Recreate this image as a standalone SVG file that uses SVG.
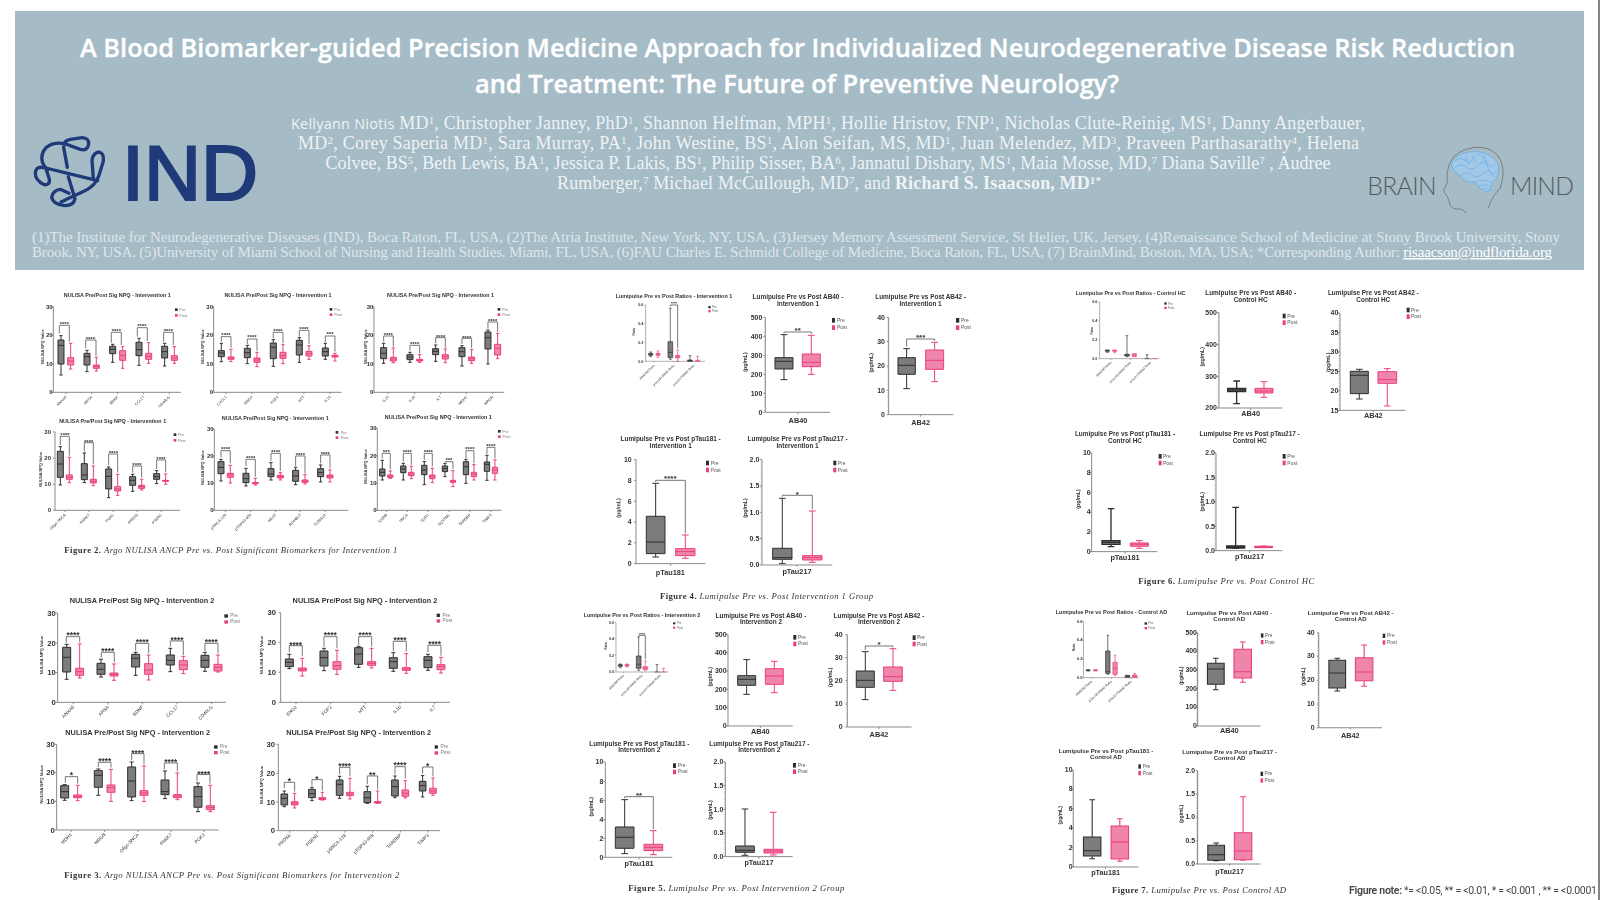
<svg xmlns="http://www.w3.org/2000/svg" width="1600" height="900" viewBox="0 0 1600 900">
<style>
text{font-family:"Liberation Sans",Arial,sans-serif;fill:#333}
.a,.t,.st,.c{text-anchor:middle}
.t,.n,.c{font-weight:700}
.n{text-anchor:end}
.st{font-weight:700}
.ax{fill:none;stroke:#8a8a8a;stroke-width:3}
.mt{fill:none;stroke:#999;stroke-width:3;stroke-dasharray:1.5 6}
.g{fill:#7b7b7b;stroke:#2f2f2f;stroke-width:3}
.p{fill:#ef85ab;stroke:#ec3d7d;stroke-width:3}
.br{fill:none;stroke:#555;stroke-width:2.4}
.lp{fill:#2f2f2f}.lq{fill:#ec3d7d}
.yl{text-anchor:middle;font-weight:700}
.x{text-anchor:end}
.cap{font-family:"Liberation Serif",serif;fill:#333}
.cap .b{font-weight:700}.cap .i{font-style:italic}
#f2 .t{font-size:16.3px}#f2 .n{font-size:18px}#f2 .yl{font-size:11.6px}#f2 .x{font-size:11.5px}#f2 .lg{font-size:11.5px;fill:#777}#f2 .st{font-size:18px}
#f3 .t{font-size:22px}#f3 .n{font-size:23px}#f3 .yl{font-size:12.8px}#f3 .x{font-size:14px}#f3 .lg{font-size:14.5px;fill:#777}#f3 .st{font-size:25px}
.lu .t{font-size:19.3px}.lu .n{font-size:21px}.lu .yl{font-size:16px}.lu .c{font-size:22px}.lu .lg{font-size:15px;fill:#555}.lu .st{font-size:24px}
.lu .rt{font-size:16.3px}.lu .rn{font-size:11px}.lu .ry{font-size:9px}.lu .rx{font-size:9.5px}.lu .rl{font-size:9.5px;fill:#666}.lu .rs{font-size:12px}
.lu .thin .ax{stroke-width:2}.lu .thin .g,.lu .thin .p{stroke-width:2}
#f7 .t{font-size:16.7px}#f7 .n{font-size:19px}#f7 .c{font-size:20px}#f7 .lg{font-size:13.5px}#f7 .yl{font-size:15px}#f7 .rt{font-size:15.2px}#f7 .rn{font-size:11px}#f7 .ry{font-size:9px}
#banner .ti{font-family:"Open Sans",sans-serif;font-size:26px;font-weight:600;fill:#fff;stroke:#fff;stroke-width:.35px;text-anchor:middle}
#banner .au{font-family:"Liberation Serif",serif;font-size:18px;fill:#eef3f5}
#banner .af{font-family:"Liberation Serif",serif;font-size:15px;fill:#dfe7eb}
#banner .s{font-size:11px;baseline-shift:5px}
</style>
<defs><filter id="b" filterUnits="userSpaceOnUse" x="0" y="0" width="1600" height="900"><feGaussianBlur stdDeviation="0.4"/></filter></defs>
<rect width="1600" height="900" fill="#fff"/>
<path d="M1599 0V900" stroke="#333" stroke-width="1.2"/>

<g id="banner">
<rect x="15" y="11" width="1569" height="259" fill="#a5bbc6"/>
<text class="ti" x="797.500" y="57" textLength="1435" lengthAdjust="spacingAndGlyphs">A Blood Biomarker-guided Precision Medicine Approach for Individualized Neurodegenerative Disease Risk Reduction</text>
<text class="ti" x="797" y="93" textLength="644" lengthAdjust="spacingAndGlyphs">and Treatment: The Future of Preventive Neurology?</text>
<text class="au" x="291" y="129" textLength="1074"><tspan font-family="Open Sans" font-size="14.5">Kellyann Niotis</tspan> MD<tspan class="s">1</tspan>, Christopher Janney, PhD<tspan class="s">1</tspan>, Shannon Helfman, MPH<tspan class="s">1</tspan>, Hollie Hristov, FNP<tspan class="s">1</tspan>, Nicholas Clute-Reinig, MS<tspan class="s">1</tspan>, Danny Angerbauer,</text>
<text class="au" x="298" y="149" textLength="1061">MD<tspan class="s">2</tspan>, Corey Saperia MD<tspan class="s">1</tspan>, Sara Murray, PA<tspan class="s">1</tspan>, John Westine, BS<tspan class="s">1</tspan>, Alon Seifan, MS, MD<tspan class="s">1</tspan>, Juan Melendez, MD<tspan class="s">3</tspan>, Praveen Parthasarathy<tspan class="s">4</tspan>, Helena</text>
<text class="au" x="325.500" y="169" textLength="1005">Colvee, BS<tspan class="s">5</tspan>, Beth Lewis, BA<tspan class="s">1</tspan>, Jessica P. Lakis, BS<tspan class="s">1</tspan>, Philip Sisser, BA<tspan class="s">6</tspan>, Jannatul Dishary, MS<tspan class="s">1</tspan>, Maia Mosse, MD,<tspan class="s">7</tspan> Diana Saville<tspan class="s">7</tspan> , Audree</text>
<text class="au" x="557" y="189" textLength="544">Rumberger,<tspan class="s">7</tspan> Michael McCullough, MD<tspan class="s">7</tspan>, and <tspan font-weight="700">Richard S. Isaacson, MD</tspan><tspan class="s" font-weight="700">1*</tspan></text>
<text class="af" x="32" y="242" textLength="1528">(1)The Institute for Neurodegenerative Diseases (IND), Boca Raton, FL, USA, (2)The Atria Institute, New York, NY, USA, (3)Jersey Memory Assessment Service, St Helier, UK, Jersey, (4)Renaissance School of Medicine at Stony Brook University, Stony</text>
<text class="af" x="32" y="257" textLength="1520">Brook, NY, USA, (5)University of Miami School of Nursing and Health Studies, Miami, FL, USA, (6)FAU Charles E. Schmidt College of Medicine, Boca Raton, FL, USA, (7) BrainMind, Boston, MA, USA; *Corresponding Author: <tspan text-decoration="underline" fill="#fff">risaacson@indflorida.org</tspan></text>
<g id="logo-ind">
<g transform="translate(25 128) scale(.3333)" fill="none" stroke="#1f3a78" stroke-width="10" stroke-linecap="round" stroke-linejoin="round">
<path d="M127 118L116 58Q114 38 136 34L172 29Q192 30 191 48Q188 70 166 64L122 48Q88 40 64 58Q46 76 52 102Q56 116 68 126"/>
<path d="M218 158L62 120Q34 112 31 134Q30 158 58 170Q78 172 72 150L62 120"/>
<path d="M205 152L201 96Q205 74 222 72Q238 76 235 100L222 142Q212 176 172 192L128 212Q118 218 108 222"/>
<path d="M130 146L150 212Q146 234 118 233Q84 228 80 208Q84 186 106 184L132 196"/>
</g>
<text x="122" y="200" font-size="78" textLength="136" lengthAdjust="spacingAndGlyphs" style="fill:#1f3a78;stroke:#1f3a78;stroke-width:2.2">IND</text>
</g>
<g id="logo-brain" transform="translate(1360 140) scale(.3333)">
<path d="M318 220Q310 204 290 207Q268 205 268 185L262 170Q250 155 252 148L262 128Q258 100 268 72Q285 30 345 22Q400 18 422 60Q438 100 420 145Q395 170 385 205" fill="none" stroke="#7a7f82" stroke-width="3"/>
<path d="M275 72Q285 42 330 35Q395 30 415 75Q420 110 397 128L390 152L380 156Q360 150 345 126Q315 132 300 106Q275 92 275 72Z" fill="#a3c8e6" stroke="#6db2ea" stroke-width="3"/>
<path d="M285 62Q300 50 315 62T345 52T375 62T405 72M285 82Q305 68 320 82T355 75T385 85T410 92M305 105Q320 92 335 105T370 100T400 110M340 45Q335 60 350 68M375 45Q368 60 385 68M320 50Q315 65 328 72M345 126Q365 115 397 128M355 138Q375 130 392 140M365 148Q378 142 388 150" fill="none" stroke="#6db2ea" stroke-width="2.5"/>
<text x="22" y="165" font-size="74" textLength="208" style="font-family:Lato,sans-serif;font-weight:300;fill:#55595c">BRAIN</text>
<text x="450" y="165" font-size="74" textLength="192" style="font-family:Lato,sans-serif;font-weight:300;fill:#55595c">MIND</text>
</g>
</g>

<g filter="url(#b)">
<g id="f2" transform="translate(20 280) scale(.3333)">
<g id="f2-1">
<text class="t" x="292" y="52">NULISA Pre/Post Sig NPQ - Intervention 1</text>
<path class="ax" d="M100 80V337H483M138 337v5M215 337v5M293 337v5M371 337v5M448 337v5M94 80h6M94 166h6M94 252h6M94 337h6"/>
<text class="n" x="98" y="86">30</text><text class="n" x="98" y="172">20</text><text class="n" x="98" y="258">10</text><text class="n" x="98" y="343">0</text>
<text class="yl" transform="translate(72 200) rotate(-90)">NULISA NPQ Value</text>
<path class="g" d="M114 180h18V252h-18ZM114 196h18M123 180V167m-5 0h10M123 252V285m-5 0h10M192 220h18V255h-18ZM192 230h18M201 220V211m-5 0h10M201 255V275m-5 0h10M269 199h18V221h-18ZM269 208h18M278 199V193m-5 0h10M278 221V247m-5 0h10M348 187h18V227h-18ZM348 209h18M357 187V175m-5 0h10M357 227V256m-5 0h10M425 199h18V234h-18ZM425 215h18M434 199V190m-5 0h10M434 234V258m-5 0h10"/>
<path class="p" d="M143 233h18V255h-18ZM143 243h18M152 233V190m-5 0h10M152 255V267m-5 0h10M220 255h18V265h-18ZM220 260h18M229 255V232m-5 0h10M229 265V273m-5 0h10M299 212h18V241h-18ZM299 226h18M308 212V200m-5 0h10M308 241V265m-5 0h10M377 220h18V238h-18ZM377 229h18M386 220V188m-5 0h10M386 238V250m-5 0h10M454 227h18V241h-18ZM454 234h18M463 227V200m-5 0h10M463 241V250m-5 0h10"/>
<path class="br" d="M118 160V136H148V185M197 205V180H228V228M274 188V157H304V195M352 170V143H382V183M431 185V157H460V195"/>
<text class="st" x="133" y="137">****</text><text class="st" x="211" y="183">****</text><text class="st" x="289" y="159">****</text><text class="st" x="366" y="145">****</text><text class="st" x="445" y="159">****</text>
<rect class="lp" x="465" y="85" width="8" height="8"/><rect class="lq" x="465" y="102" width="8" height="8"/><text class="lg" x="478" y="93">Pre</text><text class="lg" x="478" y="110">Post</text>
<g class="xg"><text class="x" transform="translate(141 352) rotate(-45)">ANXA5</text><text class="x" transform="translate(218 352) rotate(-45)">ARSA</text><text class="x" transform="translate(296 352) rotate(-45)">BDNF</text><text class="x" transform="translate(374 352) rotate(-45)">CCL17</text><text class="x" transform="translate(451 352) rotate(-45)">CD40LG</text></g>
</g>
<g id="f2-2">
<text class="t" x="774" y="52">NULISA Pre/Post Sig NPQ - Intervention 1</text>
<path class="ax" d="M581 80V337H965M618 337v5M696 337v5M774 337v5M852 337v5M930 337v5M575 80h6M575 165h6M575 251h6M575 337h6"/>
<text class="n" x="579" y="86">30</text><text class="n" x="579" y="171">20</text><text class="n" x="579" y="257">10</text><text class="n" x="579" y="343">0</text>
<text class="yl" transform="translate(553 200) rotate(-90)">NULISA NPQ Value</text>
<path class="g" d="M595 212h18V230h-18ZM595 219h18M604 212V190m-5 0h10M604 230V245m-5 0h10M673 205h18V233h-18ZM673 218h18M682 205V196m-5 0h10M682 233V251m-5 0h10M751 189h18V236h-18ZM751 202h18M760 189V179m-5 0h10M760 236V259m-5 0h10M829 181h18V225h-18ZM829 195h18M838 181V173m-5 0h10M838 225V247m-5 0h10M907 204h18V228h-18ZM907 215h18M916 204V190m-5 0h10M916 228V238m-5 0h10"/>
<path class="p" d="M624 231h18V238h-18ZM624 234h18M633 231V208m-5 0h10M633 238V245m-5 0h10M702 234h18V247h-18ZM702 240h18M711 234V217m-5 0h10M711 247V260m-5 0h10M780 217h18V235h-18ZM780 227h18M789 217V194m-5 0h10M789 235V251m-5 0h10M858 214h18V228h-18ZM858 221h18M867 214V197m-5 0h10M867 228V238m-5 0h10M936 226h18V231h-18ZM936 228h18M945 226V220m-5 0h10M945 231V243m-5 0h10"/>
<path class="br" d="M604 185V170H633V203M682 192V177H711V212M760 175V157H789V190M838 170V151H867V192M916 186V168H945V215"/>
<text class="st" x="618" y="171">****</text><text class="st" x="696" y="178">****</text><text class="st" x="774" y="159">****</text><text class="st" x="852" y="152">****</text><text class="st" x="930" y="169">***</text>
<rect class="lp" x="929" y="84" width="8" height="8"/><rect class="lq" x="929" y="100" width="8" height="8"/><text class="lg" x="943" y="92">Pre</text><text class="lg" x="943" y="108">Post</text>
<text class="x" transform="translate(621 352) rotate(-45)">CXCL1</text><text class="x" transform="translate(699 352) rotate(-45)">ENO2</text><text class="x" transform="translate(777 352) rotate(-45)">FGF2</text><text class="x" transform="translate(855 352) rotate(-45)">HTT</text><text class="x" transform="translate(933 352) rotate(-45)">IL16</text>
</g>
<g id="f2-3">
<text class="t" x="1262" y="52">NULISA Pre/Post Sig NPQ - Intervention 1</text>
<path class="ax" d="M1062 80V337H1453M1105 337v5M1184 337v5M1262 337v5M1340 337v5M1418 337v5M1056 80h6M1056 166h6M1056 252h6M1056 337h6"/>
<text class="n" x="1060" y="86">30</text><text class="n" x="1060" y="172">20</text><text class="n" x="1060" y="258">10</text><text class="n" x="1060" y="343">0</text>
<text class="yl" transform="translate(1040 200) rotate(-90)">NULISA NPQ Value</text>
<path class="g" d="M1082 203h18V236h-18ZM1082 220h18M1091 203V190m-5 0h10M1091 236V250m-5 0h10M1161 224h18V239h-18ZM1161 231h18M1170 224V217m-5 0h10M1170 239V247m-5 0h10M1238 206h18V224h-18ZM1238 214h18M1247 206V195m-5 0h10M1247 224V244m-5 0h10M1317 203h18V230h-18ZM1317 215h18M1326 203V197m-5 0h10M1326 230V258m-5 0h10M1395 156h18V207h-18ZM1395 173h18M1404 156V150m-5 0h10M1404 207V252m-5 0h10"/>
<path class="p" d="M1111 232h18V243h-18ZM1111 237h18M1120 232V204m-5 0h10M1120 243V248m-5 0h10M1190 238h18V243h-18ZM1190 241h18M1199 238V224m-5 0h10M1199 243V247m-5 0h10M1267 224h18V237h-18ZM1267 230h18M1276 224V207m-5 0h10M1276 237V248m-5 0h10M1346 231h18V242h-18ZM1346 236h18M1355 231V209m-5 0h10M1355 242V250m-5 0h10M1424 193h18V225h-18ZM1424 205h18M1433 193V160m-5 0h10M1433 225V236m-5 0h10"/>
<path class="br" d="M1091 185V168H1120V200M1170 212V196H1199V220M1247 190V173H1276V203M1326 192V175H1355V205M1404 145V126H1433V156"/>
<text class="st" x="1105" y="170">****</text><text class="st" x="1184" y="199">****</text><text class="st" x="1262" y="176">****</text><text class="st" x="1340" y="179">****</text><text class="st" x="1418" y="129">****</text>
<rect class="lp" x="1433" y="84" width="8" height="8"/><rect class="lq" x="1433" y="100" width="8" height="8"/><text class="lg" x="1447" y="92">Pre</text><text class="lg" x="1447" y="108">Post</text>
<text class="x" transform="translate(1108 352) rotate(-45)">IL15</text><text class="x" transform="translate(1187 352) rotate(-45)">IL18</text><text class="x" transform="translate(1265 352) rotate(-45)">IL7</text><text class="x" transform="translate(1343 352) rotate(-45)">MDH1</text><text class="x" transform="translate(1421 352) rotate(-45)">NRGN</text>
</g>
<g id="f2-4">
<text class="t" x="278" y="429">NULISA Pre/Post Sig NPQ - Intervention 1</text>
<path class="ax" d="M105 456V691H480M135 691v5M207 691v5M280 691v5M352 691v5M424 691v5M99 456h6M99 535h6M99 613h6M99 691h6"/>
<text class="n" x="93" y="462">30</text><text class="n" x="93" y="541">20</text><text class="n" x="93" y="619">10</text><text class="n" x="93" y="697">0</text>
<text class="yl" transform="translate(66 568) rotate(-90)">NULISA NPQ Value</text>
<path class="g" d="M112 514h18V592h-18ZM112 552h18M121 514V500m-5 0h10M121 592V615m-5 0h10M184 551h18V599h-18ZM184 585h18M193 551V519m-5 0h10M193 599V608m-5 0h10M257 567h18V627h-18ZM257 589h18M266 567V561m-5 0h10M266 627V653m-5 0h10M329 590h18V616h-18ZM329 601h18M338 590V583m-5 0h10M338 616V634m-5 0h10M401 581h18V598h-18ZM401 590h18M410 581V572m-5 0h10M410 598V611m-5 0h10"/>
<path class="p" d="M139 585h18V598h-18ZM139 592h18M148 585V532m-5 0h10M148 598V608m-5 0h10M211 598h18V609h-18ZM211 604h18M220 598V558m-5 0h10M220 609V617m-5 0h10M284 620h18V633h-18ZM284 627h18M293 620V583m-5 0h10M293 633V646m-5 0h10M356 616h18V625h-18ZM356 620h18M365 616V598m-5 0h10M365 625V630m-5 0h10M428 601h18V604h-18ZM428 602h18M437 601V582m-5 0h10M437 604V613m-5 0h10"/>
<path class="br" d="M121 495V469H148V527M193 515V488H220V553M266 556V522H293V578M338 578V558H365V593M410 567V540H437V577"/>
<text class="st" x="135" y="471">****</text><text class="st" x="206" y="491">****</text><text class="st" x="280" y="525">****</text><text class="st" x="351" y="561">****</text><text class="st" x="423" y="543">****</text>
<rect class="lp" x="461" y="460" width="8" height="8"/><rect class="lq" x="461" y="477" width="8" height="8"/><text class="lg" x="474" y="468">Pre</text><text class="lg" x="474" y="485">Post</text>
<text class="x" transform="translate(138 706) rotate(-45)">Oligo-SNCA</text><text class="x" transform="translate(210 706) rotate(-45)">PARK7</text><text class="x" transform="translate(283 706) rotate(-45)">PGK1</text><text class="x" transform="translate(355 706) rotate(-45)">PRDX6</text><text class="x" transform="translate(427 706) rotate(-45)">PSEN1</text>
</g>
<g id="f2-5">
<text class="t" x="766" y="420">NULISA Pre/Post Sig NPQ - Intervention 1</text>
<path class="ax" d="M583 447V691H985M617 691v5M692 691v5M767 691v5M841 691v5M916 691v5M577 447h6M577 528h6M577 610h6M577 691h6"/>
<text class="n" x="581" y="453">30</text><text class="n" x="581" y="534">20</text><text class="n" x="581" y="616">10</text><text class="n" x="581" y="697">0</text>
<text class="yl" transform="translate(552 563) rotate(-90)">NULISA NPQ Value</text>
<path class="g" d="M594 545h18V581h-18ZM594 562h18M603 545V538m-5 0h10M603 581V603m-5 0h10M669 580h18V608h-18ZM669 596h18M678 580V565m-5 0h10M678 608V618m-5 0h10M744 566h18V590h-18ZM744 582h18M753 566V548m-5 0h10M753 590V600m-5 0h10M818 571h18V604h-18ZM818 588h18M827 571V562m-5 0h10M827 604V614m-5 0h10M893 566h18V590h-18ZM893 578h18M902 566V555m-5 0h10M902 590V606m-5 0h10"/>
<path class="p" d="M622 580h18V592h-18ZM622 585h18M631 580V556m-5 0h10M631 592V609m-5 0h10M697 608h18V611h-18ZM697 609h18M706 608V595m-5 0h10M706 611V615m-5 0h10M772 586h18V594h-18ZM772 590h18M781 586V578m-5 0h10M781 594V600m-5 0h10M846 600h18V607h-18ZM846 604h18M855 600V584m-5 0h10M855 607V612m-5 0h10M921 585h18V594h-18ZM921 589h18M930 585V570m-5 0h10M930 594V606m-5 0h10"/>
<path class="br" d="M603 532V512H631V550M678 558V538H706V590M753 543V520H781V573M827 558V528H855V580M902 550V525H930V565"/>
<text class="st" x="617" y="514">****</text><text class="st" x="692" y="540">****</text><text class="st" x="767" y="522">****</text><text class="st" x="841" y="531">****</text><text class="st" x="916" y="527">****</text>
<rect class="lp" x="947" y="453" width="8" height="8"/><rect class="lq" x="947" y="469" width="8" height="8"/><text class="lg" x="962" y="461">Pre</text><text class="lg" x="962" y="477">Post</text>
<text class="x" transform="translate(620 706) rotate(-45)">pSNCA-129</text><text class="x" transform="translate(695 706) rotate(-45)">pTDP43-409</text><text class="x" transform="translate(770 706) rotate(-45)">REST</text><text class="x" transform="translate(844 706) rotate(-45)">ROHBL2</text><text class="x" transform="translate(919 706) rotate(-45)">S100A12</text>
</g>
<g id="f2-6">
<text class="t" x="1255" y="417">NULISA Pre/Post Sig NPQ - Intervention 1</text>
<path class="ax" d="M1072 445V691H1445M1100 691v5M1162 691v5M1225 691v5M1288 691v5M1350 691v5M1413 691v5M1066 445h6M1066 527h6M1066 610h6M1066 691h6"/>
<text class="n" x="1070" y="451">30</text><text class="n" x="1070" y="533">20</text><text class="n" x="1070" y="616">10</text><text class="n" x="1070" y="697">0</text>
<text class="yl" transform="translate(1041 560) rotate(-90)">NULISA NPQ Value</text>
<path class="g" d="M1079 567h16V588h-16ZM1079 577h16M1087 567V541m-5 0h10M1087 588V600m-5 0h10M1142 558h16V578h-16ZM1142 567h16M1150 558V550m-5 0h10M1150 578V600m-5 0h10M1205 556h16V584h-16ZM1205 570h16M1213 556V545m-5 0h10M1213 584V614m-5 0h10M1267 558h16V575h-16ZM1267 566h16M1275 558V550m-5 0h10M1275 575V590m-5 0h10M1330 545h16V584h-16ZM1330 560h16M1338 545V538m-5 0h10M1338 584V610m-5 0h10M1393 546h16V574h-16ZM1393 553h16M1401 546V526m-5 0h10M1401 574V601m-5 0h10"/>
<path class="p" d="M1103 585h16V592h-16ZM1103 589h16M1111 585V573m-5 0h10M1111 592V595m-5 0h10M1166 577h16V587h-16ZM1166 582h16M1174 577V559m-5 0h10M1174 587V596m-5 0h10M1229 585h16V596h-16ZM1229 590h16M1237 585V565m-5 0h10M1237 596V608m-5 0h10M1291 601h16V607h-16ZM1291 604h16M1299 601V572m-5 0h10M1299 607V620m-5 0h10M1354 577h16V590h-16ZM1354 583h16M1362 577V554m-5 0h10M1362 590V600m-5 0h10M1417 562h16V580h-16ZM1417 570h16M1425 562V540m-5 0h10M1425 580V600m-5 0h10"/>
<path class="br" d="M1087 535V520H1111V568M1150 545V520H1174V555M1213 540V520H1237V560M1275 545H1299V567M1338 534V512H1362V550M1401 522V502H1425V536"/>
<text class="st" x="1099" y="522">***</text><text class="st" x="1162" y="522">****</text><text class="st" x="1225" y="522">****</text><text class="st" x="1287" y="546">***</text><text class="st" x="1350" y="514">****</text><text class="st" x="1413" y="504">****</text>
<rect class="lp" x="1434" y="450" width="8" height="8"/><rect class="lq" x="1434" y="466" width="8" height="8"/><text class="lg" x="1448" y="458">Pre</text><text class="lg" x="1448" y="474">Post</text>
<text class="x" transform="translate(1103 706) rotate(-45)">S100B</text><text class="x" transform="translate(1165 706) rotate(-45)">SNCA</text><text class="x" transform="translate(1228 706) rotate(-45)">SOD1</text><text class="x" transform="translate(1291 706) rotate(-45)">SQSTM1</text><text class="x" transform="translate(1353 706) rotate(-45)">TARDBP</text><text class="x" transform="translate(1416 706) rotate(-45)">TIMP3</text>
</g>
</g>

<g id="f3" transform="translate(20 575) scale(.3333)">
<g id="f3-1">
<text class="t" x="366" y="85">NULISA Pre/Post Sig NPQ - Intervention 2</text>
<path class="ax" d="M113 114V382H618M160 382v6M264 382v6M367 382v6M471 382v6M575 382v6M107 114h6M107 204h6M107 293h6M107 382h6"/>
<text class="n" x="107" y="122">30</text><text class="n" x="107" y="212">20</text><text class="n" x="107" y="301">10</text><text class="n" x="107" y="390">0</text>
<text class="yl" transform="translate(70 240) rotate(-90)">NULISA NPQ Value</text>
<path class="g" d="M128 217h24V291h-24ZM128 247h24M140 217V208m-6 0h12M140 291V313m-6 0h12M231 265h24V298h-24ZM231 283h24M243 265V253m-6 0h12M243 298V306m-6 0h12M335 238h24V276h-24ZM335 250h24M347 238V232m-6 0h12M347 276V301m-6 0h12M439 240h24V270h-24ZM439 256h24M451 240V220m-6 0h12M451 270V290m-6 0h12M543 241h24V277h-24ZM543 256h24M555 241V232m-6 0h12M555 277V289m-6 0h12"/>
<path class="p" d="M167 280h24V301h-24ZM167 290h24M179 280V207m-6 0h12M179 301V309m-6 0h12M270 294h24V303h-24ZM270 298h24M282 294V267m-6 0h12M282 303V316m-6 0h12M374 266h24V298h-24ZM374 285h24M386 266V240m-6 0h12M386 298V315m-6 0h12M478 257h24V284h-24ZM478 270h24M490 257V244m-6 0h12M490 284V296m-6 0h12M582 268h24V288h-24ZM582 277h24M594 268V240m-6 0h12M594 288V291m-6 0h12"/>
<path class="br" d="M139 203V185H179V202M244 248V232H283V262M347 227V205H386V235M451 215V198H490V240M555 228V205H594V235"/>
<text class="st" x="159" y="190">****</text><text class="st" x="263" y="237">****</text><text class="st" x="367" y="211">****</text><text class="st" x="471" y="205">****</text><text class="st" x="574" y="211">****</text>
<rect class="lp" x="613" y="118" width="11" height="10"/><rect class="lq" x="613" y="136" width="11" height="10"/><text class="lg" x="631" y="127">Pre</text><text class="lg" x="631" y="145">Post</text>
<text class="x" transform="translate(164 397) rotate(-45)">ANXA5</text><text class="x" transform="translate(268 397) rotate(-45)">ARSA</text><text class="x" transform="translate(371 397) rotate(-45)">BDNF</text><text class="x" transform="translate(475 397) rotate(-45)">CCL17</text><text class="x" transform="translate(579 397) rotate(-45)">CD40LG</text>
</g>
<g id="f3-2">
<text class="t" x="1035" y="85">NULISA Pre/Post Sig NPQ - Intervention 2</text>
<path class="ax" d="M782 113V382H1290M828 382v6M932 382v6M1036 382v6M1140 382v6M1244 382v6M776 113h6M776 202h6M776 292h6M776 382h6"/>
<text class="n" x="768" y="121">30</text><text class="n" x="768" y="210">20</text><text class="n" x="768" y="300">10</text><text class="n" x="768" y="390">0</text>
<text class="yl" transform="translate(729 240) rotate(-90)">NULISA NPQ Value</text>
<path class="g" d="M796 252h24V275h-24ZM796 262h24M808 252V238m-6 0h12M808 275V281m-6 0h12M900 228h24V273h-24ZM900 248h24M912 228V220m-6 0h12M912 273V287m-6 0h12M1004 218h24V268h-24ZM1004 237h24M1016 218V214m-6 0h12M1016 268V277m-6 0h12M1108 248h24V280h-24ZM1108 260h24M1120 248V233m-6 0h12M1120 280V289m-6 0h12M1212 245h24V278h-24ZM1212 256h24M1224 245V238m-6 0h12M1224 278V286m-6 0h12"/>
<path class="p" d="M835 279h24V288h-24ZM835 284h24M847 279V250m-6 0h12M847 288V303m-6 0h12M939 260h24V283h-24ZM939 272h24M951 260V226m-6 0h12M951 283V298m-6 0h12M1043 260h24V271h-24ZM1043 265h24M1055 260V220m-6 0h12M1055 271V279m-6 0h12M1147 278h24V286h-24ZM1147 282h24M1159 278V236m-6 0h12M1159 286V295m-6 0h12M1251 269h24V284h-24ZM1251 275h24M1263 269V247m-6 0h12M1263 284V294m-6 0h12"/>
<path class="br" d="M808 232V212H847V244M912 215V185H951V220M1016 210V185H1055V215M1120 228V199H1159V230M1224 232V211H1263V242"/>
<text class="st" x="827" y="219">****</text><text class="st" x="931" y="190">****</text><text class="st" x="1035" y="190">****</text><text class="st" x="1140" y="205">****</text><text class="st" x="1244" y="217">****</text>
<rect class="lp" x="1250" y="116" width="10" height="10"/><rect class="lq" x="1250" y="133" width="10" height="10"/><text class="lg" x="1268" y="125">Pre</text><text class="lg" x="1268" y="142">Post</text>
<text class="x" transform="translate(832 397) rotate(-45)">ENO2</text><text class="x" transform="translate(936 397) rotate(-45)">FGF2</text><text class="x" transform="translate(1040 397) rotate(-45)">HTT</text><text class="x" transform="translate(1144 397) rotate(-45)">IL16</text><text class="x" transform="translate(1248 397) rotate(-45)">IL7</text>
</g>
<g id="f3-3">
<text class="t" x="353" y="480">NULISA Pre/Post Sig NPQ - Intervention 2</text>
<path class="ax" d="M110 508V765H596M153 765v6M254 765v6M354 765v6M453 765v6M552 765v6M104 508h6M104 593h6M104 679h6M104 765h6"/>
<text class="n" x="104" y="516">30</text><text class="n" x="104" y="601">20</text><text class="n" x="104" y="687">10</text><text class="n" x="104" y="773">0</text>
<text class="yl" transform="translate(68 628) rotate(-90)">NULISA NPQ Value</text>
<path class="g" d="M122 632h24V669h-24ZM122 650h24M134 632V629m-6 0h12M134 669V676m-6 0h12M223 587h24V637h-24ZM223 601h24M235 587V582m-6 0h12M235 637V661m-6 0h12M323 576h24V666h-24ZM323 618h24M335 576V561m-6 0h12M335 666V677m-6 0h12M423 615h24V659h-24ZM423 650h24M435 615V588m-6 0h12M435 659V671m-6 0h12M522 635h24V697h-24ZM522 665h24M534 635V624m-6 0h12M534 697V710m-6 0h12"/>
<path class="p" d="M161 660h24V668h-24ZM161 664h24M173 660V631m-6 0h12M173 668V677m-6 0h12M261 630h24V652h-24ZM261 638h24M273 630V583m-6 0h12M273 652V679m-6 0h12M360 647h24V661h-24ZM360 654h24M372 647V573m-6 0h12M372 661V680m-6 0h12M460 659h24V668h-24ZM460 663h24M472 659V594m-6 0h12M472 668V674m-6 0h12M559 692h24V704h-24ZM559 698h24M571 692V631m-6 0h12M571 704V710m-6 0h12"/>
<path class="br" d="M136 623V605H173V626M235 577V562H273V578M335 556V536H372V568M433 583V564H472V589M531 619V598H570V626"/>
<text class="st" x="154" y="610">*</text><text class="st" x="254" y="566">****</text><text class="st" x="353" y="542">****</text><text class="st" x="452" y="570">****</text><text class="st" x="551" y="605">****</text>
<rect class="lp" x="582" y="511" width="11" height="10"/><rect class="lq" x="582" y="528" width="11" height="10"/><text class="lg" x="600" y="520">Pre</text><text class="lg" x="600" y="537">Post</text>
<text class="x" transform="translate(157 780) rotate(-45)">MDH1</text><text class="x" transform="translate(258 780) rotate(-45)">NRGN</text><text class="x" transform="translate(358 780) rotate(-45)">Oligo-SNCA</text><text class="x" transform="translate(457 780) rotate(-45)">PARK7</text><text class="x" transform="translate(556 780) rotate(-45)">PGK1</text>
</g>
<g id="f3-4">
<text class="t" x="1016" y="480">NULISA Pre/Post Sig NPQ - Intervention 2</text>
<path class="ax" d="M775 508V767H1260M809 767v6M892 767v6M975 767v6M1058 767v6M1141 767v6M1224 767v6M769 508h6M769 595h6M769 681h6M769 767h6"/>
<text class="n" x="765" y="516">30</text><text class="n" x="765" y="603">20</text><text class="n" x="765" y="689">10</text><text class="n" x="765" y="775">0</text>
<text class="yl" transform="translate(729 630) rotate(-90)">NULISA NPQ Value</text>
<path class="g" d="M783 657h20V690h-20ZM783 670h20M793 657V648m-5 0h10M793 690V695m-5 0h10M866 643h20V668h-20ZM866 656h20M876 643V637m-5 0h10M876 668V677m-5 0h10M949 615h20V661h-20ZM949 628h20M959 615V604m-5 0h10M959 661V670m-5 0h10M1032 650h20V683h-20ZM1032 668h20M1042 650V634m-5 0h10M1042 683V685m-5 0h10M1115 615h20V663h-20ZM1115 635h20M1125 615V603m-5 0h10M1125 663V668m-5 0h10M1198 619h20V648h-20ZM1198 632h20M1208 619V602m-5 0h10M1208 648V666m-5 0h10"/>
<path class="p" d="M814 680h20V690h-20ZM814 685h20M824 680V655m-5 0h10M824 690V699m-5 0h10M897 668h20V674h-20ZM897 671h20M907 668V652m-5 0h10M907 674V675m-5 0h10M980 652h20V662h-20ZM980 657h20M990 652V610m-5 0h10M990 662V672m-5 0h10M1063 680h20V684h-20ZM1063 682h20M1073 680V648m-5 0h10M1073 684V685m-5 0h10M1146 645h20V664h-20ZM1146 655h20M1156 645V617m-5 0h10M1156 664V669m-5 0h10M1229 640h20V655h-20ZM1229 648h20M1239 640V609m-5 0h10M1239 655V661m-5 0h10"/>
<path class="br" d="M793 640V622H824V650M876 632V614H907V647M959 598V577H990V604M1042 628V603H1073V643M1125 598V575H1156V611M1208 596V576H1239V604"/>
<text class="st" x="808" y="627">*</text><text class="st" x="891" y="620">*</text><text class="st" x="974" y="582">****</text><text class="st" x="1057" y="608">**</text><text class="st" x="1140" y="580">****</text><text class="st" x="1223" y="583">*</text>
<rect class="lp" x="1244" y="511" width="10" height="10"/><rect class="lq" x="1244" y="529" width="10" height="10"/><text class="lg" x="1262" y="520">Pre</text><text class="lg" x="1262" y="538">Post</text>
<text class="x" transform="translate(813 782) rotate(-45)">PRDX6</text><text class="x" transform="translate(896 782) rotate(-45)">PSEN1</text><text class="x" transform="translate(979 782) rotate(-45)">pSNCA-129</text><text class="x" transform="translate(1062 782) rotate(-45)">pTDP43-409</text><text class="x" transform="translate(1145 782) rotate(-45)">TARDBP</text><text class="x" transform="translate(1228 782) rotate(-45)">TIMP3</text>
</g>
</g>

<g id="f4" class="lu" transform="translate(590 280) scale(.3333)">
<g id="f4-r" class="thin">
<text class="t rt" x="252" y="53">Lumipulse Pre vs Post Ratios - Intervention 1</text>
<path class="ax" d="M167 75V244H345M193 244v4M252 244v4M312 244v4M163 75h4M163 131h4M163 188h4M163 244h4"/>
<text class="n rn" x="160" y="79">0.6</text><text class="n rn" x="160" y="135">0.4</text><text class="n rn" x="160" y="192">0.2</text><text class="n rn" x="160" y="248">0.0</text>
<text class="yl ry" transform="translate(136 155) rotate(-90)">Ratio</text>
<path class="g" d="M176 220h12V226h-12ZM176 223h12M182 220V216m-4 0h8M182 226V230m-4 0h8M234 185h14V233h-14ZM234 217h14M241 185V85m-4 0h8M241 233V238m-4 0h8M293 240h14V244h-14ZM293 242h14M300 240V227m-4 0h8"/>
<path class="p" d="M198 220h12V226h-12ZM198 223h12M204 220V213m-4 0h8M204 226V232m-4 0h8M257 226h12V234h-12ZM257 230h12M263 226V210m-4 0h8M263 234V244m-4 0h8M317 241h12V244h-12ZM323 241V229m-4 0h8"/>
<path class="br" d="M241 80V75H263V205"/>
<text class="st rs" x="252" y="76">****</text>
<rect class="lp" x="355" y="78" width="7" height="7"/><rect class="lq" x="355" y="90" width="7" height="7"/><text class="rl" x="365" y="85">Pre</text><text class="rl" x="365" y="97">Post</text>
<text class="x rx" transform="translate(195 257) rotate(-45)">AB42/40 Ratio</text><text class="x rx" transform="translate(254 257) rotate(-45)">pTau181/AB42 Ratio</text><text class="x rx" transform="translate(314 257) rotate(-45)">pTau217/AB42 Ratio</text>
</g>
<g id="f4-ab40">
<text class="t" x="624" y="58">Lumipulse Pre vs Post AB40 -</text><text class="t" x="624" y="79">Intervention 1</text>
<path class="ax" d="M526 112V397H720M624 397v6M520 112h6M520 169h6M520 226h6M520 283h6M520 340h6M520 397h6"/><path class="mt" d="M523 112V397"/>
<text class="n" x="517" y="119">500</text><text class="n" x="517" y="176">400</text><text class="n" x="517" y="233">300</text><text class="n" x="517" y="290">200</text><text class="n" x="517" y="347">100</text><text class="n" x="517" y="404">0</text>
<text class="yl" transform="translate(471 246) rotate(-90)">(pg/mL)</text>
<path class="g" d="M555 233h54V267h-54ZM555 244h54M582 233V164m-10 0h20M582 267V299m-10 0h20"/>
<path class="p" d="M637 222h54V260h-54ZM637 247h54M664 222V166m-10 0h20M664 260V283m-10 0h20"/>
<path class="br" d="M582 160V156H664V162"/><text class="st" x="623" y="158">**</text>
<rect class="lp" x="726" y="114" width="9" height="14"/><rect class="lq" x="726" y="136" width="9" height="14"/><text class="lg" x="741" y="126">Pre</text><text class="lg" x="741" y="148">Post</text>
<text class="c" x="624" y="428">AB40</text>
</g>
<g id="f4-ab42">
<text class="t" x="992" y="58">Lumipulse Pre vs Post AB42 -</text><text class="t" x="992" y="79">Intervention 1</text>
<path class="ax" d="M896 112V404H1090M992 404v6M890 112h6M890 185h6M890 258h6M890 331h6M890 404h6"/><path class="mt" d="M893 112V404"/>
<text class="n" x="885" y="119">40</text><text class="n" x="885" y="192">30</text><text class="n" x="885" y="265">20</text><text class="n" x="885" y="338">10</text><text class="n" x="885" y="411">0</text>
<text class="yl" transform="translate(850 248) rotate(-90)">(pg/mL)</text>
<path class="g" d="M924 233h52V283h-52ZM924 256h52M950 233V206m-10 0h20M950 283V326m-10 0h20"/>
<path class="p" d="M1007 210h54V268h-54ZM1007 241h54M1034 210V187m-10 0h20M1034 268V305m-10 0h20"/>
<path class="br" d="M950 200V177H1034V183"/><text class="st" x="992" y="180">***</text>
<rect class="lp" x="1098" y="114" width="10" height="14"/><rect class="lq" x="1098" y="136" width="10" height="14"/><text class="lg" x="1113" y="126">Pre</text><text class="lg" x="1113" y="148">Post</text>
<text class="c" x="992" y="435">AB42</text>
</g>
<g id="f4-181">
<text class="t" x="242" y="483">Lumipulse Pre vs Post pTau181 -</text><text class="t" x="242" y="504">Intervention 1</text>
<path class="ax" d="M138 539V851H346M242 851v6M132 539h6M132 601h6M132 664h6M132 726h6M132 788h6M132 851h6"/>
<text class="n" x="125" y="546">10</text><text class="n" x="125" y="608">8</text><text class="n" x="125" y="671">6</text><text class="n" x="125" y="733">4</text><text class="n" x="125" y="795">2</text><text class="n" x="125" y="858">0</text>
<text class="yl" transform="translate(92 684) rotate(-90)">(pg/mL)</text>
<path class="g" d="M169 709h56V821h-56ZM169 786h56M197 709V610m-10 0h20M197 821V831m-10 0h20"/>
<path class="p" d="M257 806h58V827h-58ZM257 815h58M286 806V765m-10 0h20M286 827V835m-10 0h20"/>
<path class="br" d="M197 606V601H286V760"/><text class="st" x="241" y="604">****</text>
<rect class="lp" x="348" y="542" width="9" height="14"/><rect class="lq" x="348" y="563" width="9" height="14"/><text class="lg" x="362" y="554">Pre</text><text class="lg" x="362" y="575">Post</text>
<text class="c" x="241" y="884">pTau181</text>
</g>
<g id="f4-217">
<text class="t" x="623" y="483">Lumipulse Pre vs Post pTau217 -</text><text class="t" x="623" y="504">Intervention 1</text>
<path class="ax" d="M516 539V855H727M621 855v6M510 539h6M510 618h6M510 697h6M510 776h6M510 855h6"/><path class="mt" d="M513 539V855"/>
<text class="n" x="508" y="546">2.0</text><text class="n" x="508" y="625">1.5</text><text class="n" x="508" y="704">1.0</text><text class="n" x="508" y="783">0.5</text><text class="n" x="508" y="862">0.0</text>
<text class="yl" transform="translate(472 684) rotate(-90)">(pg/mL)</text>
<path class="g" d="M548 805h58V838h-58ZM548 833h58M577 805V655m-10 0h20M577 838V851m-10 0h20"/>
<path class="p" d="M638 827h58V840h-58ZM638 833h58M667 827V693m-10 0h20M667 840V847m-10 0h20"/>
<path class="br" d="M577 650V646H667V688"/><text class="st" x="622" y="650">*</text>
<rect class="lp" x="730" y="542" width="9" height="14"/><rect class="lq" x="730" y="563" width="9" height="14"/><text class="lg" x="743" y="554">Pre</text><text class="lg" x="743" y="575">Post</text>
<text class="c" x="621" y="881">pTau217</text>
</g>
</g>

<g id="f5" class="lu" transform="translate(570 590) scale(.3333)">
<g id="f5-r" class="thin">
<text class="t rt" x="216" y="80">Lumipulse Pre vs Post Ratios - Intervention 2</text>
<path class="ax" d="M138 97V246H295M161 246v4M216 246v4M271 246v4M134 97h4M134 146h4M134 196h4M134 246h4"/>
<text class="n rn" x="132" y="101">0.6</text><text class="n rn" x="132" y="150">0.4</text><text class="n rn" x="132" y="200">0.2</text><text class="n rn" x="132" y="250">0.0</text>
<text class="yl ry" transform="translate(112 168) rotate(-90)">Ratio</text>
<path class="g" d="M145 224h12V229h-12ZM145 226h12M151 224V222m-4 0h8M151 229V233m-4 0h8M199 198h14V235h-14ZM199 223h14M206 198V141m-4 0h8M206 235V241m-4 0h8M261 224V246m-4-22h8M254 246h14"/>
<path class="p" d="M165 224h12V228h-12ZM165 226h12M171 224V222m-4 0h8M171 228V231m-4 0h8M219 230h14V238h-14ZM219 234h14M226 230V213m-4 0h8M226 238V241m-4 0h8M281 235V246m-4-11h8M274 246h14"/>
<path class="br" d="M206 138V136H226V208"/><text class="st rs" x="216" y="137">****</text>
<rect class="lp" x="309" y="97" width="7" height="6"/><rect class="lq" x="309" y="110" width="7" height="6"/><text class="rl" x="320" y="103">Pre</text><text class="rl" x="320" y="116">Post</text>
<text class="x rx" transform="translate(163 257) rotate(-45)">AB42/40 Ratio</text><text class="x rx" transform="translate(218 257) rotate(-45)">pTau181/AB42 Ratio</text><text class="x rx" transform="translate(273 257) rotate(-45)">pTau217/AB42 Ratio</text>
</g>
<g id="f5-ab40">
<text class="t" x="573" y="84">Lumipulse Pre vs Post AB40 -</text><text class="t" x="573" y="103">Intervention 2</text>
<path class="ax" d="M474 133V408H668M571 408v6M468 133h6M468 188h6M468 243h6M468 298h6M468 353h6M468 408h6"/>
<text class="n" x="470" y="140">500</text><text class="n" x="470" y="195">400</text><text class="n" x="470" y="250">300</text><text class="n" x="470" y="305">200</text><text class="n" x="470" y="360">100</text><text class="n" x="470" y="415">0</text>
<text class="yl" transform="translate(425 260) rotate(-90)">(pg/mL)</text>
<path class="g" d="M503 257h54V286h-54ZM503 268h54M530 257V209m-10 0h20M530 286V313m-10 0h20"/>
<path class="p" d="M586 236h54V283h-54ZM586 258h54M613 236V214m-10 0h20M613 283V308m-10 0h20"/>
<rect class="lp" x="670" y="135" width="9" height="14"/><rect class="lq" x="670" y="155" width="9" height="14"/><text class="lg" x="684" y="147">Pre</text><text class="lg" x="684" y="166">Post</text>
<text class="c" x="571" y="432">AB40</text>
</g>
<g id="f5-ab42">
<text class="t" x="927" y="84">Lumipulse Pre vs Post AB42 -</text><text class="t" x="927" y="103">Intervention 2</text>
<path class="ax" d="M832 134V411H1025M927 411v6M826 134h6M826 203h6M826 272h6M826 342h6M826 411h6"/><path class="mt" d="M829 134V411"/>
<text class="n" x="818" y="141">40</text><text class="n" x="818" y="210">30</text><text class="n" x="818" y="279">20</text><text class="n" x="818" y="349">10</text><text class="n" x="818" y="418">0</text>
<text class="yl" transform="translate(785 262) rotate(-90)">(pg/mL)</text>
<path class="g" d="M859 243h54V292h-54ZM859 271h54M886 243V185m-10 0h20M886 292V329m-10 0h20"/>
<path class="p" d="M941 231h56V274h-56ZM941 260h56M969 231V176m-10 0h20M969 274V301m-10 0h20"/>
<path class="br" d="M886 180V168H969V172"/><text class="st" x="927" y="170">*</text>
<rect class="lp" x="1028" y="136" width="9" height="14"/><rect class="lq" x="1028" y="155" width="9" height="14"/><text class="lg" x="1041" y="148">Pre</text><text class="lg" x="1041" y="167">Post</text>
<text class="c" x="927" y="442">AB42</text>
</g>
<g id="f5-181">
<text class="t" x="208" y="467">Lumipulse Pre vs Post pTau181 -</text><text class="t" x="208" y="487">Intervention 2</text>
<path class="ax" d="M106 516V802H307M207 802v6M100 516h6M100 574h6M100 631h6M100 688h6M100 745h6M100 802h6"/>
<text class="n" x="100" y="523">10</text><text class="n" x="100" y="581">8</text><text class="n" x="100" y="638">6</text><text class="n" x="100" y="695">4</text><text class="n" x="100" y="752">2</text><text class="n" x="100" y="809">0</text>
<text class="yl" transform="translate(69 650) rotate(-90)">(pg/mL)</text>
<path class="g" d="M136 711h56V775h-56ZM136 742h56M164 711V629m-10 0h20M164 775V791m-10 0h20"/>
<path class="p" d="M222 763h56V782h-56ZM222 772h56M250 763V722m-10 0h20M250 782V794m-10 0h20"/>
<path class="br" d="M164 625V620H250V717"/><text class="st" x="207" y="624">**</text>
<rect class="lp" x="309" y="520" width="9" height="14"/><rect class="lq" x="309" y="539" width="9" height="14"/><text class="lg" x="323" y="531">Pre</text><text class="lg" x="323" y="550">Post</text>
<text class="c" x="207" y="828">pTau181</text>
</g>
<g id="f5-217">
<text class="t" x="568" y="467">Lumipulse Pre vs Post pTau217 -</text><text class="t" x="568" y="487">Intervention 2</text>
<path class="ax" d="M466 516V800H668M567 800v6M460 516h6M460 587h6M460 658h6M460 729h6M460 800h6"/><path class="mt" d="M463 516V800"/>
<text class="n" x="460" y="523">2.0</text><text class="n" x="460" y="594">1.5</text><text class="n" x="460" y="665">1.0</text><text class="n" x="460" y="736">0.5</text><text class="n" x="460" y="807">0.0</text>
<text class="yl" transform="translate(425 660) rotate(-90)">(pg/mL)</text>
<path class="g" d="M497 768h56V787h-56ZM497 781h56M525 768V657m-10 0h20M525 787V796m-10 0h20"/>
<path class="p" d="M582 778h56V789h-56ZM582 783h56M610 778V667m-10 0h20M610 789V795m-10 0h20"/>
<rect class="lp" x="669" y="519" width="9" height="14"/><rect class="lq" x="669" y="538" width="9" height="14"/><text class="lg" x="683" y="530">Pre</text><text class="lg" x="683" y="549">Post</text>
<text class="c" x="567" y="824">pTau217</text>
</g>
</g>

<g id="f6" class="lu" transform="translate(1040 275) scale(.3333)">
<g id="f6-r" class="thin">
<text class="t rt" x="272" y="60">Lumipulse Pre vs Post Ratios - Control HC</text>
<path class="ax" d="M179 81V251H358M213 251v4M272 251v4M332 251v4M175 81h4M175 137h4M175 194h4M175 251h4"/>
<text class="n rn" x="172" y="85">0.6</text><text class="n rn" x="172" y="141">0.4</text><text class="n rn" x="172" y="198">0.2</text><text class="n rn" x="172" y="255">0.0</text>
<text class="yl ry" transform="translate(160 167) rotate(-90)">Ratio</text>
<path class="g" d="M196 225h12V229h-12ZM196 227h12M202 229V232m-4 0h8M254 238h14V243h-14ZM254 240h14M261 238V182m-4 0h8M261 243V245m-4 0h8M321 251V239m-4 0h8M314 251h14"/>
<path class="p" d="M218 225h12V229h-12ZM218 227h12M224 229V233m-4 0h8M277 236h12V245h-12ZM277 240h12M338 251h12"/>
<rect class="lp" x="373" y="82" width="7" height="7"/><rect class="lq" x="373" y="95" width="7" height="7"/><text class="rl" x="384" y="89">Pre</text><text class="rl" x="384" y="102">Post</text>
<text class="x rx" transform="translate(215 263) rotate(-45)">AB42/40 Ratio</text><text class="x rx" transform="translate(274 263) rotate(-45)">pTau181/AB42 Ratio</text><text class="x rx" transform="translate(334 263) rotate(-45)">pTau217/AB42 Ratio</text>
</g>
<g id="f6-ab40">
<text class="t" x="632" y="61">Lumipulse Pre vs Post AB40 -</text><text class="t" x="632" y="82">Control HC</text>
<path class="ax" d="M537 113V399H727M632 399v6M531 113h6M531 208h6M531 304h6M531 399h6"/><path class="mt" d="M534 113V399"/>
<text class="n" x="531" y="120">500</text><text class="n" x="531" y="215">400</text><text class="n" x="531" y="311">300</text><text class="n" x="531" y="406">200</text>
<text class="yl" transform="translate(491 245) rotate(-90)">(pg/mL)</text>
<path class="g" d="M563 340h54V350h-54ZM563 345h54M590 340V318m-10 0h20M590 350V386m-10 0h20" style="stroke-width:4"/>
<path class="p" d="M645 340h54V354h-54ZM645 348h54M672 340V320m-10 0h20M672 354V367m-10 0h20"/>
<rect class="lp" x="728" y="116" width="9" height="14"/><rect class="lq" x="728" y="136" width="9" height="14"/><text class="lg" x="742" y="128">Pre</text><text class="lg" x="742" y="148">Post</text>
<text class="c" x="632" y="423">AB40</text>
</g>
<g id="f6-ab42">
<text class="t" x="1000" y="61">Lumipulse Pre vs Post AB42 -</text><text class="t" x="1000" y="82">Control HC</text>
<path class="ax" d="M900 114V406H1097M1000 406v6M894 114h6M894 173h6M894 231h6M894 290h6M894 348h6M894 406h6"/><path class="mt" d="M897 114V406"/>
<text class="n" x="895" y="121">40</text><text class="n" x="895" y="180">35</text><text class="n" x="895" y="238">30</text><text class="n" x="895" y="297">25</text><text class="n" x="895" y="355">20</text><text class="n" x="895" y="413">15</text>
<text class="yl" transform="translate(869 262) rotate(-90)">(pg/mL)</text>
<path class="g" d="M931 289h54V356h-54ZM931 301h54M958 289V283m-10 0h20M958 356V372m-10 0h20"/>
<path class="p" d="M1014 290h56V325h-56ZM1014 314h56M1042 290V281m-10 0h20M1042 325V393m-10 0h20"/>
<rect class="lp" x="1100" y="98" width="9" height="14"/><rect class="lq" x="1100" y="118" width="9" height="14"/><text class="lg" x="1113" y="110">Pre</text><text class="lg" x="1113" y="130">Post</text>
<text class="c" x="1000" y="430">AB42</text>
</g>
<g id="f6-181">
<text class="t" x="255" y="482">Lumipulse Pre vs Post pTau181 -</text><text class="t" x="255" y="503">Control HC</text>
<path class="ax" d="M155 534V830H352M255 830v6M149 534h6M149 593h6M149 652h6M149 711h6M149 771h6M149 830h6"/>
<text class="n" x="152" y="541">10</text><text class="n" x="152" y="600">8</text><text class="n" x="152" y="659">6</text><text class="n" x="152" y="718">4</text><text class="n" x="152" y="778">2</text><text class="n" x="152" y="837">0</text>
<text class="yl" transform="translate(119 672) rotate(-90)">(pg/mL)</text>
<path class="g" d="M186 797h54V808h-54ZM186 802h54M213 797V701m-10 0h20M213 808V815m-10 0h20" style="stroke-width:4"/>
<path class="p" d="M271 804h54V814h-54ZM271 808h54M298 804V797m-10 0h20M298 814V820m-10 0h20"/>
<rect class="lp" x="356" y="537" width="9" height="14"/><rect class="lq" x="356" y="557" width="9" height="14"/><text class="lg" x="369" y="549">Pre</text><text class="lg" x="369" y="569">Post</text>
<text class="c" x="255" y="855">pTau181</text>
</g>
<g id="f6-217">
<text class="t" x="629" y="482">Lumipulse Pre vs Post pTau217 -</text><text class="t" x="629" y="503">Control HC</text>
<path class="ax" d="M528 534V827H727M629 827v6M522 534h6M522 609h6M522 681h6M522 754h6M522 827h6"/><path class="mt" d="M525 534V827"/>
<text class="n" x="525" y="541">2.0</text><text class="n" x="525" y="616">1.5</text><text class="n" x="525" y="688">1.0</text><text class="n" x="525" y="761">0.5</text><text class="n" x="525" y="834">0.0</text>
<text class="yl" transform="translate(491 680) rotate(-90)">(pg/mL)</text>
<path class="g" d="M560 813h54V819h-54ZM560 816h54M587 813V697m-10 0h20M587 819V820m-10 0h20" style="stroke-width:4"/>
<path class="p" d="M644 814h54V818h-54ZM644 816h54M671 814V813m-10 0h20"/>
<rect class="lp" x="728" y="537" width="9" height="14"/><rect class="lq" x="728" y="557" width="9" height="14"/><text class="lg" x="742" y="549">Pre</text><text class="lg" x="742" y="569">Post</text>
<text class="c" x="629" y="852">pTau217</text>
</g>
</g>

<g id="f7" class="lu" transform="translate(1030 590) scale(.3636 .3333)">
<g id="f7-r" class="thin">
<text class="t rt" x="224" y="73">Lumipulse Pre vs Post Ratios - Control AD</text>
<path class="ax" d="M147 94V263H300M170 263v4M224 263v4M278 263v4M143 94h4M143 150h4M143 207h4M143 263h4"/>
<text class="n rn" x="144" y="98">0.6</text><text class="n rn" x="144" y="154">0.4</text><text class="n rn" x="144" y="211">0.2</text><text class="n rn" x="144" y="267">0.0</text>
<text class="yl ry" transform="translate(123 172) rotate(-90)">Ratio</text>
<path class="g" d="M155 239h10V243h-10ZM155 241h10M208 183h12V250h-12ZM208 245h12M214 183V136m-3 0h6M214 250V253m-3 0h6M262 256h12V262h-12ZM262 259h12"/>
<path class="p" d="M175 239h10V243h-10ZM175 241h10M228 217h12V253h-12ZM228 235h12M234 217V196m-3 0h6M234 253V256m-3 0h6M282 255h12V262h-12ZM282 259h12M288 255V250m-3 0h6"/>
<rect class="lp" x="315" y="97" width="7" height="7"/><rect class="lq" x="315" y="111" width="7" height="7"/><text class="rl" x="325" y="103">Pre</text><text class="rl" x="325" y="117">Post</text>
<text class="x rx" transform="translate(172 275) rotate(-45)">AB42/40 Ratio</text><text class="x rx" transform="translate(226 275) rotate(-45)">pTau181/AB42 Ratio</text><text class="x rx" transform="translate(280 275) rotate(-45)">pTau217/AB42 Ratio</text>
</g>
<g id="f7-ab40">
<text class="t" x="548" y="75">Lumipulse Pre vs Post AB40 -</text><text class="t" x="548" y="94">Control AD</text>
<path class="ax" d="M461 128V408H634M548 408v5M456 128h5M456 183h5M456 240h5M456 296h5M456 352h5M456 408h5"/><path class="mt" d="M458 128V408"/>
<text class="n" x="459" y="134">500</text><text class="n" x="459" y="189">400</text><text class="n" x="459" y="246">300</text><text class="n" x="459" y="302">200</text><text class="n" x="459" y="358">100</text><text class="n" x="459" y="414">0</text>
<text class="yl" transform="translate(420 257) rotate(-90)">(pg/mL)</text>
<path class="g" d="M488 220h46V283h-46ZM488 237h46M511 220V205m-8 0h16M511 283V299m-8 0h16"/>
<path class="p" d="M561 178h48V264h-48ZM561 245h48M585 178V156m-8 0h16M585 264V277m-8 0h16"/>
<rect class="lp" x="635" y="130" width="7" height="13"/><rect class="lq" x="635" y="150" width="7" height="13"/><text class="lg" x="646" y="141">Pre</text><text class="lg" x="646" y="161">Post</text>
<text class="c" x="548" y="430">AB40</text>
</g>
<g id="f7-ab42">
<text class="t" x="882" y="75">Lumipulse Pre vs Post AB42 -</text><text class="t" x="882" y="94">Control AD</text>
<path class="ax" d="M794 128V413H968M881 413v5M789 128h5M789 199h5M789 271h5M789 342h5M789 413h5"/><path class="mt" d="M791 128V413"/>
<text class="n" x="783" y="134">40</text><text class="n" x="783" y="205">30</text><text class="n" x="783" y="277">20</text><text class="n" x="783" y="348">10</text><text class="n" x="783" y="419">0</text>
<text class="yl" transform="translate(755 260) rotate(-90)">(pg/mL)</text>
<path class="g" d="M822 211h46V294h-46ZM822 249h46M845 211V205m-8 0h16M845 294V303m-8 0h16"/>
<path class="p" d="M895 203h48V272h-48ZM895 246h48M919 203V165m-8 0h16M919 272V289m-8 0h16"/>
<rect class="lp" x="970" y="131" width="7" height="13"/><rect class="lq" x="970" y="151" width="7" height="13"/><text class="lg" x="982" y="142">Pre</text><text class="lg" x="982" y="162">Post</text>
<text class="c" x="881" y="444">AB42</text>
</g>
<g id="f7-181">
<text class="t" x="209" y="488">Lumipulse Pre vs Post pTau181 -</text><text class="t" x="209" y="508">Control AD</text>
<path class="ax" d="M119 541V831H298M208 831v5M114 541h5M114 598h5M114 656h5M114 714h5M114 773h5M114 831h5"/>
<text class="n" x="117" y="547">10</text><text class="n" x="117" y="604">8</text><text class="n" x="117" y="662">6</text><text class="n" x="117" y="720">4</text><text class="n" x="117" y="779">2</text><text class="n" x="117" y="837">0</text>
<text class="yl" transform="translate(88 676) rotate(-90)">(pg/mL)</text>
<path class="g" d="M147 741h48V798h-48ZM147 782h48M171 741V629m-8 0h16M171 798V806m-8 0h16"/>
<path class="p" d="M223 708h48V807h-48ZM223 756h48M247 708V686m-8 0h16M247 807V814m-8 0h16"/>
<rect class="lp" x="298" y="523" width="7" height="13"/><rect class="lq" x="298" y="543" width="7" height="13"/><text class="lg" x="310" y="534">Pre</text><text class="lg" x="310" y="554">Post</text>
<text class="c" x="208" y="855">pTau181</text>
</g>
<g id="f7-217">
<text class="t" x="549" y="491">Lumipulse Pre vs Post pTau217 -</text><text class="t" x="549" y="511">Control AD</text>
<path class="ax" d="M461 542V822H634M549 822v5M456 542h5M456 612h5M456 682h5M456 752h5M456 822h5"/><path class="mt" d="M458 542V822"/>
<text class="n" x="454" y="548">2.0</text><text class="n" x="454" y="618">1.5</text><text class="n" x="454" y="688">1.0</text><text class="n" x="454" y="758">0.5</text><text class="n" x="454" y="828">0.0</text>
<text class="yl" transform="translate(421 672) rotate(-90)">(pg/mL)</text>
<path class="g" d="M489 766h46V811h-46ZM489 794h46M512 766V759m-8 0h16M512 811V812m-8 0h16"/>
<path class="p" d="M562 728h48V809h-48ZM562 783h48M586 728V620m-8 0h16M586 809V811m-8 0h16"/>
<rect class="lp" x="634" y="545" width="7" height="13"/><rect class="lq" x="634" y="565" width="7" height="13"/><text class="lg" x="645" y="556">Pre</text><text class="lg" x="645" y="576">Post</text>
<text class="c" x="549" y="853">pTau217</text>
</g>
</g>

<g id="captions" class="cap">
<text class="cap" x="64.300" y="553" font-size="8.700" textLength="333"><tspan class="b">Figure 2.</tspan><tspan class="i"> Argo NULISA ANCP Pre vs. Post Significant Biomarkers for Intervention 1</tspan></text>
<text class="cap" x="64.300" y="878" font-size="8.700" textLength="335"><tspan class="b">Figure 3.</tspan><tspan class="i"> Argo NULISA ANCP Pre vs. Post Significant Biomarkers for Intervention 2</tspan></text>
<text class="cap" x="660" y="599" font-size="8.700" textLength="213"><tspan class="b">Figure 4.</tspan><tspan class="i"> Lumipulse Pre vs. Post Intervention 1 Group</tspan></text>
<text class="cap" x="628.300" y="891" font-size="8.700" textLength="216"><tspan class="b">Figure 5.</tspan><tspan class="i"> Lumipulse Pre vs. Post Intervention 2 Group</tspan></text>
<text class="cap" x="1138.300" y="583.500" font-size="8.700" textLength="176"><tspan class="b">Figure 6.</tspan><tspan class="i"> Lumipulse Pre vs. Post Control HC</tspan></text>
<text class="cap" x="1112" y="893" font-size="8.700" textLength="174"><tspan class="b">Figure 7.</tspan><tspan class="i"> Lumipulse Pre vs. Post Control AD</tspan></text>
</g>
<text id="fig-note" x="1349" y="894" font-size="10.500" textLength="248" style="font-family:Roboto,sans-serif;fill:#444"><tspan font-weight="600">Figure note:</tspan> *= &lt;0.05, ** = &lt;0.01, * = &lt;0.001 , ** = &lt;0.0001</text>
</g>
</svg>
